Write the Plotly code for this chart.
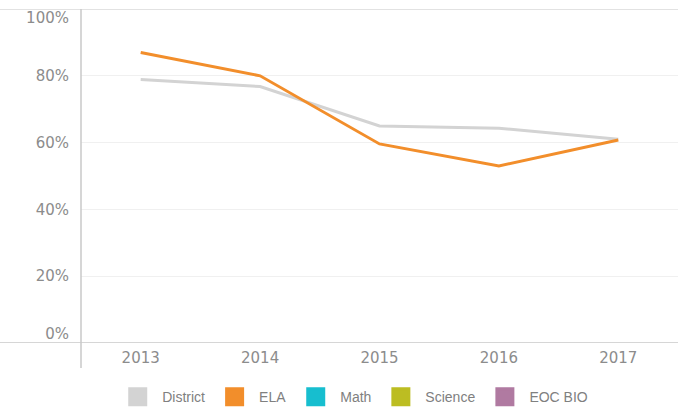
import plotly.graph_objects as go

years = ["2013", "2014", "2015", "2016", "2017"]
district = [78.9, 76.8, 65.0, 64.3, 61.0]
ela = [87.0, 80.0, 59.6, 53.0, 60.8]
legend_names = ["District", "ELA", "Math", "Science", "EOC BIO"]
legend_colors = ["#d3d3d3", "#f28e2b", "#17becf", "#bcbd22", "#b07aa1"]
ytick_vals = [0, 20, 40, 60, 80, 100]
ytick_text = ["0%", "20%", "40%", "60%", "80%", "100%"]

tickfont = dict(family="DejaVu Sans", size=15, color="#8c8c8c")

fig = go.Figure()
fig.add_trace(go.Scatter(x=years, y=district, mode="lines",
                         line=dict(color=legend_colors[0], width=3),
                         showlegend=False, hoverinfo="skip"))
fig.add_trace(go.Scatter(x=years, y=ela, mode="lines",
                         line=dict(color=legend_colors[1], width=3),
                         showlegend=False, hoverinfo="skip"))
for i, (name, col) in enumerate(zip(legend_names, legend_colors)):
    fig.add_trace(go.Scatter(x=[None], y=[None], mode="markers", name=name,
                             yaxis="y2" if i % 2 == 0 else "y3",
                             marker=dict(symbol="square", size=16, color=col,
                                         line=dict(color=col, width=3))))

axis_common = dict(range=[0, 100], zeroline=False, showline=False,
                   ticks="outside", ticklen=8, tickcolor="rgba(0,0,0,0)",
                   tickfont=tickfont)

fig.update_layout(
    width=678, height=410,
    margin=dict(l=81, r=0, t=9, b=67, autoexpand=False),
    plot_bgcolor="white", paper_bgcolor="white",
    xaxis=dict(type="category", range=[-0.5, 4.5], showgrid=False,
               showline=False, zeroline=False, ticks="", ticklabelstandoff=4,
               tickfont=tickfont),
    yaxis=dict(tickvals=ytick_vals[1:-1], ticktext=ytick_text[1:-1],
               showgrid=True, gridcolor="#f0f0f0", gridwidth=1, **axis_common),
    yaxis2=dict(overlaying="y", side="left", tickvals=ytick_vals[-1:],
                ticktext=ytick_text[-1:], showgrid=False, ticklabelshift=9,
                **axis_common),
    yaxis3=dict(overlaying="y", side="left", tickvals=ytick_vals[:1],
                ticktext=ytick_text[:1], showgrid=False, ticklabelshift=-9,
                **axis_common),
    legend=dict(orientation="h", x=0.456, xanchor="center", y=-0.162, yanchor="middle",
                font=dict(family="Liberation Sans", size=14, color="#808080"),
                itemclick=False, tracegroupgap=0, itemwidth=39),
    shapes=[
        dict(type="line", xref="paper", yref="y", x0=-0.14, x1=1, y0=0, y1=0,
             line=dict(color="#c8c8c8", width=1.5)),
        dict(type="line", xref="paper", yref="y", x0=-0.14, x1=1, y0=100, y1=100,
             line=dict(color="#d8d8d8", width=1.5)),
        dict(type="line", xref="paper", yref="paper", x0=0, x1=0, y0=-0.075, y1=1,
             line=dict(color="#c8c8c8", width=1.5)),
    ],
)

fig.write_html("out.html")
